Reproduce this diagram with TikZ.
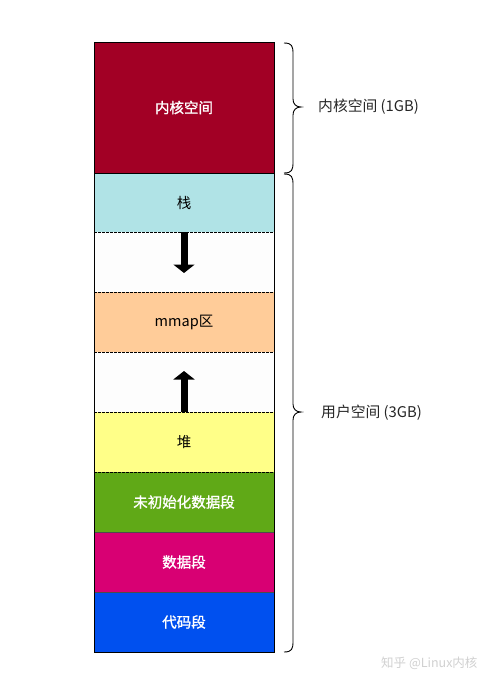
\documentclass[tikz,border=0pt]{standalone}
\usepackage{fontspec}
\setmainfont{Noto Sans CJK SC}
\newfontfamily\cjk{Noto Sans CJK SC}
\newfontfamily\cjkb[FakeBold=1.3]{Noto Sans CJK SC}
\usetikzlibrary{arrows.meta}
\definecolor{kernelc}{HTML}{A20025}
\definecolor{stackc}{HTML}{B0E3E6}
\definecolor{emptyc}{HTML}{FDFDFD}
\definecolor{mmapc}{HTML}{FFCC99}
\definecolor{heapc}{HTML}{FFFF88}
\definecolor{bssc}{HTML}{60A917}
\definecolor{datac}{HTML}{D80073}
\definecolor{codec}{HTML}{0050EF}
\begin{document}
\begin{tikzpicture}[x=1pt,y=-1pt,
  cell/.style={minimum width=180pt,inner sep=0pt,outer sep=0pt,font=\cjk\fontsize{14.5}{15}\selectfont},
  boldcell/.style={cell,text=white,font=\cjkb\fontsize{14.5}{15}\selectfont},
  sep/.style={line width=0.6pt,dash pattern=on 2.5pt off 1.5pt},
  solidsep/.style={line width=0.6pt},
  bigarrow/.style={line width=7pt,-{Triangle[width=21pt,length=8.5pt]}},
  brace/.style={line width=0.9pt,black},
  lbl/.style={anchor=west,inner sep=0pt,font=\cjk\fontsize{14.8}{15}\selectfont,text=black!85}]
\useasboundingbox (0,0) rectangle (488,685);
\fill[white] (0,0) rectangle (488,685);
\node[boldcell,fill=kernelc,minimum height=131pt] (kernel) at (184,107.5) {内核空间};
\node[cell,fill=stackc,minimum height=59pt,text=black] (stack) at (184,202.5) {栈};
\node[cell,fill=emptyc,minimum height=60pt] (gap1) at (184,262) {};
\node[cell,fill=mmapc,minimum height=60pt,text=black] (mmap) at (184,322) {mmap区};
\node[cell,fill=emptyc,minimum height=60pt] (gap2) at (184,382) {};
\node[cell,fill=heapc,minimum height=60pt,text=black] (heap) at (184,442) {堆};
\node[boldcell,fill=bssc,minimum height=60pt] (bss) at (184,502) {未初始化数据段};
\node[boldcell,fill=datac,minimum height=60pt] (data) at (184,562) {数据段};
\node[boldcell,fill=codec,minimum height=60pt] (code) at (184,622) {代码段};
% separators
\draw[solidsep] (kernel.south west) -- (kernel.south east);
\draw[sep] (stack.south west) -- (stack.south east);
\draw[sep] (mmap.north west) -- (mmap.north east);
\draw[sep] (mmap.south west) -- (mmap.south east);
\draw[sep] (heap.north west) -- (heap.north east);
\draw[sep] (heap.south west) -- (heap.south east);
\draw[solidsep,black!70] (bss.south west) -- (bss.south east);
\draw[solidsep,black!70] (data.south west) -- (data.south east);
\draw[line width=0.7pt] (kernel.north west) rectangle (code.south east);
% arrows
\coordinate (downtip) at (184,273);
\coordinate (uptip) at (184,371);
\draw[bigarrow] (stack.south) -- (downtip);
\draw[bigarrow] (heap.north) -- (uptip);
% braces
\draw[brace] (284,43) .. controls (292,43) and (293,46) .. (293,54) -- (293,99)
  .. controls (293,104) and (296,107) .. (301,107)
  .. controls (296,107) and (293,110) .. (293,115) -- (293,162)
  .. controls (293,170) and (292,173) .. (284,173);
\draw[brace] (284,174) .. controls (292,174) and (293,177) .. (293,185) -- (293,404)
  .. controls (293,409) and (296,412) .. (301,412)
  .. controls (296,412) and (293,415) .. (293,420) -- (293,641)
  .. controls (293,649) and (292,652) .. (284,652);
\node[lbl] (klabel) at (318,107) {内核空间 (1GB)};
\node[lbl] (ulabel) at (321,413) {用户空间 (3GB)};
\node[anchor=west,inner sep=0pt,font=\cjk\fontsize{12.5}{13}\selectfont,text=black!18] (wm) at (381,663) {知乎 @Linux内核};
\end{tikzpicture}
\end{document}
